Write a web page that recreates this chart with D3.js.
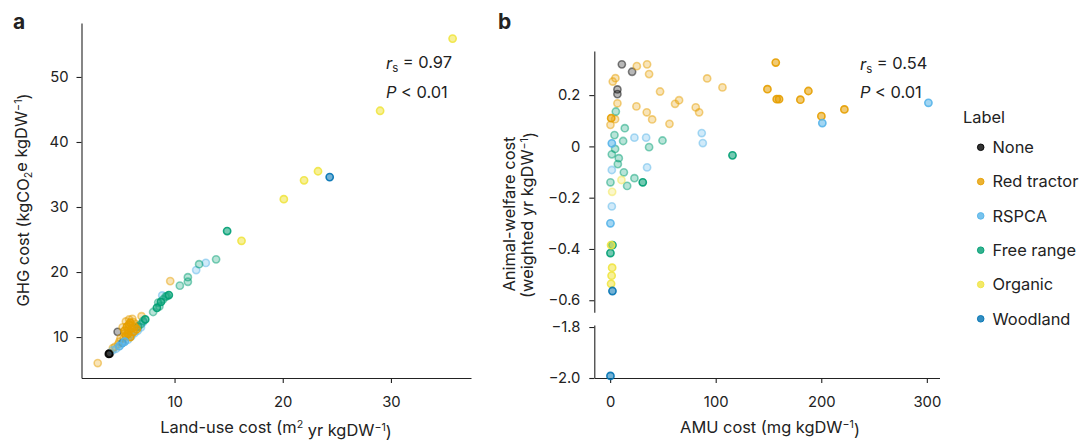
<!DOCTYPE html>
<html><head><meta charset="utf-8">
<script src="https://cdn.jsdelivr.net/npm/d3@7"></script>
<style>
body{margin:0;background:#fff;}
text{font-family:Inter, "Noto Sans", sans-serif;fill:#222;}
</style></head>
<body><svg id="chart" width="1085" height="442"></svg>
<script>
// ---------- data ----------
const labels = ["None","Red tractor","RSPCA","Free range","Organic","Woodland"];
const palette = ["#000000","#E69F00","#56B4E9","#009E73","#F0E442","#0072B2"];

// Panel a: [land-use cost, GHG cost, highlighted(1)/faded(0)]
const a_None = [[4.74,10.8,0],[3.93,7.4,1],[3.98,7.5,0],[4.02,7.45,0]];
const a_RedTractor = [[5.4,11.0,1],[5.6,11.6,1],[5.8,11.9,1],[5.9,12.2,1],[6.0,11.3,1],[6.2,10.8,1],[5.7,10.5,1],[6.3,11.6,1],[5.5,10.2,1],[6.5,11.2,1],[5.9,10.0,1],
  [2.9,6.0,0],[9.6,18.6,0],[6.95,13.2,0],[4.3,8.3,0],[4.5,8.5,0],[4.9,9.3,0],[5.3,9.8,0],[5.5,12.4,0],[6.1,12.8,0],[5.2,11.5,0],[6.4,12.0,0],[5.0,9.8,0],[5.7,11.0,0],[6.0,10.4,0],[4.8,8.9,0],[6.6,11.6,0],[5.4,10.6,0],[5.8,12.7,0],[6.2,12.3,0]];
const a_RSPCA = [[12.89,21.4,0],[12.0,20.3,0],[8.86,16.4,0],[4.6,8.2,0],[4.9,8.6,1],[5.1,9.0,0],[5.4,9.3,1],[5.7,9.6,0],[6.0,10.1,0],[6.3,10.6,0],[6.6,11.0,0],[6.9,11.5,0],[7.1,12.3,0],[4.3,8.0,0]];
const a_FreeRange = [[14.86,26.3,1],[13.84,21.95,0],[12.27,21.2,0],[11.23,19.2,0],[11.23,18.5,0],[10.49,17.9,0],[9.47,16.46,1],[9.17,16.2,0],[8.95,15.8,0],[8.74,15.4,1],[8.49,15.3,0],[8.37,14.5,1],[8.02,13.85,0],[7.29,12.7,1],[7.1,12.5,0],[6.64,11.6,0],[6.9,12.0,0],[9.3,16.3,0],[8.6,14.7,0]];
const a_Organic = [[35.7,55.9,1],[29.0,44.8,1],[23.26,35.5,1],[21.97,34.1,1],[20.1,31.2,1],[16.19,24.8,1]];
const a_Woodland = [[24.34,34.6,1],[5.2,9.1,0]];

// Panel b: [AMU cost, animal-welfare cost, highlighted(1)/faded(0)]
const b_None = [[11.1,0.320,0],[20.8,0.291,0],[6.9,0.222,0],[6.9,0.204,0]];
const b_RedTractor = [[25.3,0.313,0],[35.0,0.320,0],[36.9,0.282,0],[2.5,0.253,0],[5.0,0.266,0],[47.3,0.214,0],[91.9,0.265,0],[106.4,0.230,0],[6.9,0.168,0],[65.3,0.180,0],[61.5,0.166,0],[24.9,0.156,0],[81.1,0.152,0],[84.3,0.133,0],[34.7,0.133,0],[39.8,0.105,0],[56.2,0.088,0],[0.3,0.084,0],[4.7,0.106,0],[1.0,0.110,1],
  [156.9,0.327,1],[149.0,0.223,1],[157.8,0.184,1],[160.0,0.184,1],[187.8,0.216,1],[180.2,0.182,1],[200.1,0.118,1],[221.9,0.144,1]];
const b_RSPCA = [[301.5,0.170,1],[201.0,0.091,1],[86.8,0.052,0],[87.8,0.013,0],[23.0,0.034,0],[34.1,0.034,0],[35.0,-0.082,0],[1.6,0.012,1],[1.6,-0.092,0],[1.6,-0.234,0],[0.3,-0.300,1]];
const b_FreeRange = [[115.9,-0.035,1],[49.6,0.023,0],[36.9,-0.003,0],[5.4,0.136,0],[13.9,0.071,0],[4.1,0.044,0],[12.3,0.021,0],[4.7,-0.010,0],[1.6,-0.031,0],[8.2,-0.046,0],[7.3,-0.069,0],[13.0,-0.101,0],[0.3,-0.140,0],[23.0,-0.124,0],[16.1,-0.154,0],[30.9,-0.140,1],[2.2,-0.385,1],[0.3,-0.416,1]];
const b_Organic = [[10.7,-0.131,0],[1.9,-0.177,0],[0.9,-0.385,1],[1.9,-0.473,1],[1.4,-0.504,1],[0.9,-0.536,1]];
const b_Woodland = [[2.2,-0.564,1],[0.3,-1.992,1]];

const aSeries = [a_None,a_RedTractor,a_RSPCA,a_FreeRange,a_Organic,a_Woodland];
const bSeries = [b_None,b_RedTractor,b_RSPCA,b_FreeRange,b_Organic,b_Woodland];

const aXTicks = [10,20,30];
const aYTicks = [10,20,30,40,50];
const bXTicks = [0,100,200,300];
const bYTicksTop = [0.2,0,-0.2,-0.4,-0.6];
const bYTicksBottom = [-1.8,-2.0];

// ---------- drawing ----------
const svg = d3.select("#chart");
const FS = 14.8;

function flatten(series){
  const out=[];
  series.forEach((s,i)=>s.forEach(p=>out.push({x:p[0],y:p[1],h:p[2],c:i})));
  return out.filter(d=>!d.h).concat(out.filter(d=>d.h));
}
function drawPoints(g, data, xs, yFn){
  g.selectAll("circle").data(data).join("circle")
    .attr("cx",d=>xs(d.x)).attr("cy",d=>yFn(d.y)).attr("r",3.6)
    .attr("fill",d=>palette[d.c]).attr("stroke",d=>palette[d.c])
    .attr("stroke-width",1.6)
    .attr("fill-opacity",d=>d.h?0.55:0.28)
    .attr("stroke-opacity",d=>d.h?0.9:0.48);
}
function styleAxis(g){
  g.selectAll("path.domain").attr("stroke","#222").attr("stroke-width",1.1);
  g.selectAll(".tick line").attr("stroke","#222").attr("stroke-width",1.1);
  g.selectAll(".tick text").style("font-size",FS+"px").attr("fill","#222")
   .style("font-family","Inter, 'Noto Sans', sans-serif");
}
const fmt = v => v===0 ? "0" : d3.format(".1f")(v);

// Panel a
const ax = d3.scaleLinear().domain([1.4,37.4]).range([81.5,471]);
const ay = d3.scaleLinear().domain([3.7,58.3]).range([378,23]);
svg.append("g").attr("transform","translate(0,378)")
  .call(d3.axisBottom(ax).tickValues(aXTicks).tickSize(5).tickSizeOuter(0).tickPadding(13))
  .call(styleAxis);
svg.append("g").attr("transform","translate(81.5,0)")
  .call(d3.axisLeft(ay).tickValues(aYTicks).tickSize(5).tickSizeOuter(0).tickPadding(8))
  .call(styleAxis);
drawPoints(svg.append("g"), flatten(aSeries), ax, ay);

// Panel b
const bx = d3.scaleLinear().domain([-15,312]).range([594.3,939.5]);
const byTop = d3.scaleLinear().domain([-0.647,0.372]).range([312.3,51]);
const byBot = d3.scaleLinear().domain([-2.0,-1.792]).range([378,325]);
svg.append("g").attr("transform","translate(0,378)")
  .call(d3.axisBottom(bx).tickValues(bXTicks).tickSize(5).tickSizeOuter(0).tickPadding(13))
  .call(styleAxis);
svg.append("g").attr("transform","translate(594.3,0)")
  .call(d3.axisLeft(byTop).tickValues(bYTicksTop).tickFormat(fmt).tickSize(5).tickSizeOuter(0).tickPadding(9))
  .call(styleAxis);
svg.append("g").attr("transform","translate(594.3,0)")
  .call(d3.axisLeft(byBot).tickValues(bYTicksBottom).tickFormat(fmt).tickSize(5).tickSizeOuter(0).tickPadding(9))
  .call(styleAxis);
drawPoints(svg.append("g"), flatten(bSeries), bx, v => v < -1 ? byBot(v) : byTop(v));

// Panel letters
svg.append("text").attr("x",13).attr("y",29).text("a").style("font-size","21px").style("font-weight","bold").attr("fill","#000");
svg.append("text").attr("x",498).attr("y",29).text("b").style("font-size","21px").style("font-weight","bold").attr("fill","#000");

// Axis titles
const LF = "16.4px";
let t = svg.append("text").attr("x",276).attr("y",433).attr("text-anchor","middle").style("font-size",LF);
t.append("tspan").text("Land-use cost (m");
t.append("tspan").attr("dy","-0.45em").style("font-size","0.65em").text("2");
t.append("tspan").attr("dy","0.45em").text(" yr kgDW");
t.append("tspan").attr("dy","-0.45em").style("font-size","0.65em").text("−1");
t.append("tspan").attr("dy","0.45em").text(")");

t = svg.append("text").attr("transform","translate(29,200) rotate(-90)").attr("text-anchor","middle").style("font-size",LF);
t.append("tspan").text("GHG cost (kgCO");
t.append("tspan").attr("dy","0.3em").style("font-size","0.65em").text("2");
t.append("tspan").attr("dy","-0.3em").text("e kgDW");
t.append("tspan").attr("dy","-0.45em").style("font-size","0.65em").text("−1");
t.append("tspan").attr("dy","0.45em").text(")");

t = svg.append("text").attr("x",770).attr("y",433).attr("text-anchor","middle").style("font-size",LF);
t.append("tspan").text("AMU cost (mg kgDW");
t.append("tspan").attr("dy","-0.45em").style("font-size","0.65em").text("−1");
t.append("tspan").attr("dy","0.45em").text(")");

svg.append("text").attr("transform","translate(515,214) rotate(-90)").attr("text-anchor","middle").style("font-size",LF).text("Animal-welfare cost");
t = svg.append("text").attr("transform","translate(533,215) rotate(-90)").attr("text-anchor","middle").style("font-size",LF);
t.append("tspan").text("(weighted yr kgDW");
t.append("tspan").attr("dy","-0.45em").style("font-size","0.65em").text("−1");
t.append("tspan").attr("dy","0.45em").text(")");

// Annotations
function stats(x, y1, y2, r){
  let s = svg.append("text").attr("x",x).attr("y",y1).style("font-size","16.4px");
  s.append("tspan").style("font-style","italic").text("r");
  s.append("tspan").attr("dy","0.3em").style("font-size","0.7em").text("s");
  s.append("tspan").attr("dy","-0.3em").text(" = " + r);
  s = svg.append("text").attr("x",x).attr("y",y2).style("font-size","16.4px");
  s.append("tspan").style("font-style","italic").text("P");
  s.append("tspan").text(" < 0.01");
}
stats(386, 69, 98, "0.97");
stats(860, 70, 98, "0.54");

// Legend
const lg = svg.append("g");
lg.append("text").attr("x",963).attr("y",123).style("font-size","16.4px").text("Label");
labels.forEach((l,i)=>{
  const y = 147.3 + i*34.3;
  lg.append("circle").attr("cx",980.7).attr("cy",y).attr("r",3.3)
    .attr("fill",palette[i]).attr("stroke",palette[i]).attr("fill-opacity",0.8).attr("stroke-opacity",0.9);
  lg.append("text").attr("x",992.5).attr("y",y).attr("dy","0.35em").style("font-size","16.4px").text(l);
});
</script></body></html>
